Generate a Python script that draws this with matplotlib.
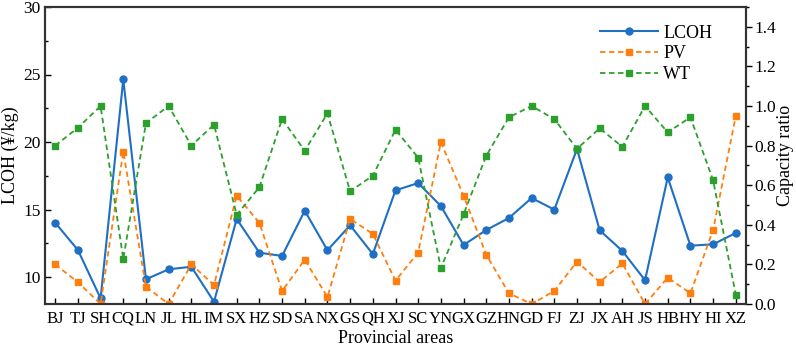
import matplotlib
matplotlib.use("Agg")
import matplotlib.pyplot as plt
from matplotlib.ticker import MultipleLocator

plt.rcParams['font.family'] = ['Liberation Serif', 'DejaVu Serif']

provinces = ["BJ", "TJ", "SH", "CQ", "LN", "JL", "HL", "IM", "SX", "HZ", "SD", "SA", "NX",
             "GS", "QH", "XJ", "SC", "YN", "GX", "GZ", "HN", "GD", "FJ", "ZJ", "JX", "AH",
             "JS", "HB", "HY", "HI", "XZ"]
lcoh = [14.02, 12.0, 8.42, 24.64, 9.83, 10.57, 10.76, 8.17, 14.3, 11.8, 11.56, 14.91, 11.98,
        13.83, 11.7, 16.42, 16.96, 15.26, 12.37, 13.48, 14.37, 15.85, 14.99, 19.48, 13.46,
        11.93, 9.76, 17.38, 12.32, 12.42, 13.26]
pv = [0.20, 0.11, 0.0, 0.77, 0.087, 0.0, 0.20, 0.096, 0.547, 0.41, 0.066, 0.224, 0.035,
      0.43, 0.354, 0.118, 0.26, 0.817, 0.547, 0.249, 0.054, 0.0, 0.066, 0.214, 0.111,
      0.205, 0.0, 0.133, 0.054, 0.374, 0.95]
wt = [0.80, 0.89, 1.0, 0.227, 0.914, 1.0, 0.80, 0.906, 0.45, 0.59, 0.934, 0.774, 0.963,
      0.569, 0.648, 0.88, 0.739, 0.182, 0.453, 0.749, 0.943, 1.0, 0.934, 0.784, 0.887,
      0.794, 1.0, 0.867, 0.943, 0.625, 0.047]

fig = plt.figure(figsize=(7.96, 3.5), dpi=100)
ax = fig.add_axes([45/796, 1-304/350, (746-45)/796, (304-7)/350])
ax2 = ax.twinx()

x = list(range(len(provinces)))
blue = "#1f6fc4"
orange = "#ff7f0e"
green = "#2ca02c"

l1, = ax.plot(x, lcoh, color=blue, lw=1.5, marker='o', ms=5, label="LCOH")
l2, = ax2.plot(x, pv, color=orange, lw=1.3, ls=(0, (3, 2)), marker='s', ms=4.5, label="PV")
l3, = ax2.plot(x, wt, color=green, lw=1.3, ls=(0, (3, 2)), marker='s', ms=4.5, label="WT")

ax.set_xlim(-0.45, len(provinces) - 0.55)
ax.set_ylim(8, 30)
ax2.set_ylim(0, 1.5)
ax.set_xticks(x)
ax.set_xticklabels(provinces, fontsize=12)
ax.yaxis.set_major_locator(MultipleLocator(5))
ax.yaxis.set_minor_locator(MultipleLocator(2.5))
ax2.yaxis.set_minor_locator(MultipleLocator(0.1))
ax2.set_yticks([0, 0.2, 0.4, 0.6, 0.8, 1.0, 1.2, 1.4])
ax2.set_yticklabels(["0.0", "0.2", "0.4", "0.6", "0.8", "1.0", "1.2", "1.4"])

ax.tick_params(axis='y', direction='in', length=4, width=1, labelsize=12.5, pad=3)
ax.tick_params(axis='y', which='minor', direction='in', length=2.5, width=1)
ax.tick_params(axis='x', direction='in', length=4, width=1, pad=5)
ax2.tick_params(axis='y', direction='out', length=4, width=1, labelsize=12.5, pad=2)
ax2.tick_params(axis='y', which='minor', direction='out', length=2.5, width=1)

for a in (ax, ax2):
    for s in a.spines.values():
        s.set_linewidth(1.5)
        s.set_color("#333333")

ax.set_xlabel("Provincial areas", fontsize=13, labelpad=2)
ax.set_ylabel("LCOH (¥/kg)", fontsize=13, labelpad=3)
ax2.set_ylabel("Capacity ratio", fontsize=13, labelpad=1)

leg = ax.legend(handles=[l1, l2, l3], loc='upper right', bbox_to_anchor=(0.975, 0.995),
                frameon=False, fontsize=13, handlelength=3.2, labelspacing=0.2,
                handletextpad=0.3)

fig.savefig("out.png", dpi=100)
